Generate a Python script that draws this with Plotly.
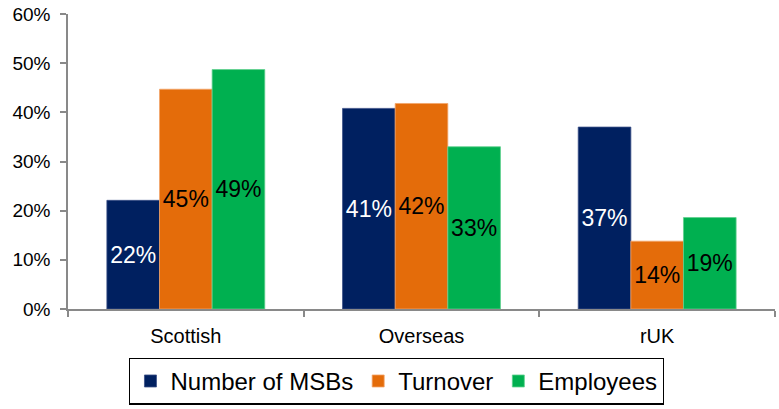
import plotly.graph_objects as go

categories = ["Scottish", "Overseas", "rUK"]
series_names = ["Number of MSBs", "Turnover", "Employees"]
msbs = [0.221, 0.408, 0.370]
turnover = [0.447, 0.418, 0.138]
employees = [0.487, 0.330, 0.186]
labels_msbs = ["22%", "41%", "37%"]
labels_turnover = ["45%", "42%", "14%"]
labels_employees = ["49%", "33%", "19%"]
y_ticks = [0, 0.1, 0.2, 0.3, 0.4, 0.5, 0.6]
y_tick_text = ["0%", "10%", "20%", "30%", "40%", "50%", "60%"]

colors = ["#002060", "#E46C0A", "#00B050"]
edge_colors = ["#3A4F86", "#F2A46A", "#5FD08E"]
label_colors = ["white", "black", "black"]
FONT = "Liberation Sans, Arial, sans-serif"

fig = go.Figure()
for name, vals, labs, c, ec, lc in zip(series_names, [msbs, turnover, employees],
                                      [labels_msbs, labels_turnover, labels_employees],
                                      colors, edge_colors, label_colors):
    fig.add_trace(go.Bar(
        name=name, x=categories, y=vals, text=labs,
        textposition="inside", insidetextanchor="middle",
        textfont=dict(family=FONT, size=23, color=lc),
        marker=dict(color=c, line=dict(color=ec, width=0.8)),
        hoverinfo="skip",
    ))

fig.update_layout(
    width=779, height=409,
    margin=dict(l=68, r=4, t=14, b=94),
    barmode="group", bargap=0.33, bargroupgap=0,
    plot_bgcolor="white", paper_bgcolor="white",
    font=dict(family=FONT, color="black"),
    showlegend=True,
    legend=dict(
        orientation="h", x=0.465, xanchor="center", y=-0.165, yanchor="top",
        bordercolor="black", borderwidth=1.2,
        font=dict(family=FONT, size=24, color="black"),
        itemwidth=30, tracegroupgap=0,
    ),
)
fig.update_xaxes(
    type="category", showline=True, linecolor="#898989", linewidth=1.5,
    ticks="outside", tickson="boundaries", ticklen=6, tickcolor="#898989", tickwidth=1.5,
    tickfont=dict(family=FONT, size=20, color="black"), showgrid=False,
    ticklabelstandoff=8,
)
fig.update_yaxes(
    range=[0, 0.6], tickvals=y_ticks, ticktext=y_tick_text,
    showline=True, linecolor="#898989", linewidth=1.5,
    ticks="outside", ticklen=6, tickcolor="#898989", tickwidth=1.5,
    tickfont=dict(family=FONT, size=19, color="black"), showgrid=False, zeroline=False,
    ticklabelstandoff=6,
)

fig.write_html("out.html", config={"displayModeBar": False},
               post_script="document.body.style.margin='0';")
